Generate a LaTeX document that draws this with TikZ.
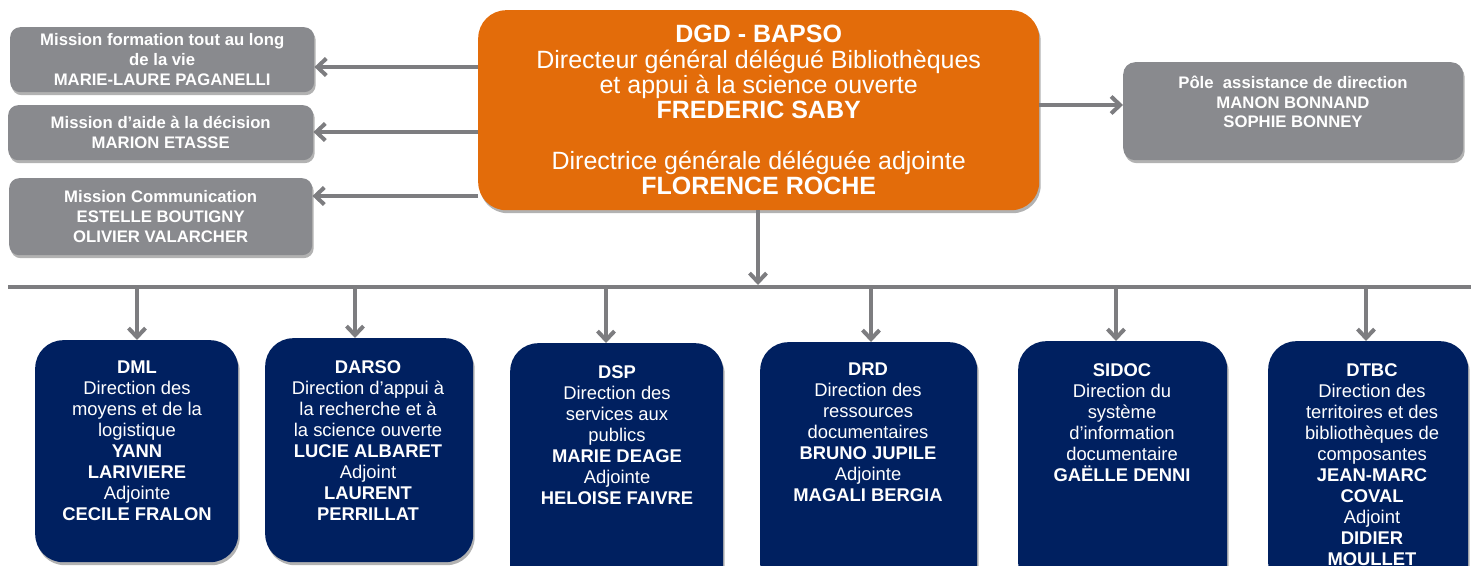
\documentclass[tikz,border=0pt]{standalone}
\usepackage{fontspec}
\setmainfont{Liberation Sans}
\usetikzlibrary{shadows,arrows.meta,calc}
\definecolor{orng}{RGB}{227,108,10}
\definecolor{gbox}{RGB}{137,138,142}
\definecolor{navy}{RGB}{0,32,96}
\definecolor{lgray}{RGB}{125,125,128}
\begin{document}
\begin{tikzpicture}[x=1pt,y=-1pt,
  shad/.style={drop shadow={shadow xshift=1.5pt,shadow yshift=-3pt,opacity=0.3,fill=black}},
  graybox/.style={fill=gbox,draw=none,rounded corners=10pt,shad,anchor=north west,inner sep=0pt,
    text=white,align=center,font=\fontsize{16.7}{19.8}\selectfont\bfseries},
  orangebox/.style={fill=orng,draw=none,rounded corners=28pt,shad,anchor=north west,inner sep=0pt,
    text=white,align=center,font=\fontsize{25}{25.3}\selectfont},
  navybox/.style={fill=navy,draw=none,rounded corners=28pt,shad,anchor=north west,inner sep=0pt},
  navytext/.style={text=white,align=center,anchor=north,inner sep=0pt,font=\fontsize{18.4}{21}\selectfont},
  righttext/.style={text=white,align=center,inner sep=0pt,font=\fontsize{16.7}{19.8}\selectfont\bfseries},
  arr/.style={draw=lgray,line width=4pt,-{Straight Barb[length=9pt,width=17pt]}},
  bus/.style={draw=lgray,line width=4pt}
]
\useasboundingbox (0,0) rectangle (1471,565);

% top level
\node[orangebox,minimum width=561pt,minimum height=200pt] (dgd) at (478,10)
  {\textbf{DGD - BAPSO}\\
   Directeur général délégué Bibliothèques\\
   et appui à la science ouverte\\
   \textbf{FREDERIC SABY}\\[25.3pt]
   Directrice générale déléguée adjointe\\
   \textbf{FLORENCE ROCHE}};

% missions (left)
\node[graybox,minimum width=304pt,minimum height=65pt] (m1) at (10,27)
  {Mission formation tout au long\\ de la vie\\ MARIE-LAURE PAGANELLI};
\node[graybox,minimum width=305pt,minimum height=55pt] (m2) at (8,105)
  {Mission d’aide à la décision\\ MARION ETASSE};
\node[graybox,minimum width=303pt,minimum height=77pt] (m3) at (9,178)
  {Mission Communication\\ ESTELLE BOUTIGNY\\ OLIVIER VALARCHER};

% assistance (right)
\node[graybox,minimum width=340pt,minimum height=98pt,rounded corners=12pt] (pad) at (1123,62) {};
\node[righttext] (padt) at (1293,102)
  {Pôle\ \ assistance de direction\\ MANON BONNAND\\ SOPHIE BONNEY};

% arrows to missions
\coordinate (l1) at (478,67);
\coordinate (l2) at (478,132);
\coordinate (l3) at (478,196);
\draw[arr] (l1) -- (l1 -| m1.east);
\draw[arr] (l2) -- (l2 -| m2.east);
\draw[arr] (l3) -- (l3 -| m3.east);
\coordinate (r1) at (1039,105);
\draw[arr] (r1) -- (r1 -| pad.west);

% bus
\coordinate (busL) at (8,287);
\coordinate (busR) at (1471,287);
\draw[bus] (busL) -- (busR);
\coordinate (dgdb) at (758,210);
\draw[arr] (dgdb) -- (758,285);

% directions
\node[navybox,minimum width=203pt,minimum height=222pt] (dml) at (35,340) {};
\node[navybox,minimum width=208pt,minimum height=224pt] (darso) at (265,338) {};
\node[navybox,minimum width=213pt,minimum height=250pt] (dsp) at (510,343) {};
\node[navybox,minimum width=217pt,minimum height=250pt] (drd) at (760,342) {};
\node[navybox,minimum width=209pt,minimum height=250pt] (sidoc) at (1018,341) {};
\node[navybox,minimum width=200pt,minimum height=250pt] (dtbc) at (1268,341) {};

\node[navytext] (dmlt) at (137,361)
  {\textbf{DML}\\ Direction des\\ moyens et de la\\ logistique\\ \textbf{YANN}\\ \textbf{LARIVIERE}\\ Adjointe\\ \textbf{CECILE FRALON}};
\node[navytext] (darsot) at (368,360)
  {\textbf{DARSO}\\ Direction d’appui à\\ la recherche et à\\ la science ouverte\\ \textbf{LUCIE ALBARET}\\ Adjoint\\ \textbf{LAURENT}\\ \textbf{PERRILLAT}};
\node[navytext] (dspt) at (617,365)
  {\textbf{DSP}\\ Direction des\\ services aux\\ publics\\ \textbf{MARIE DEAGE}\\ Adjointe\\ \textbf{HELOISE FAIVRE}};
\node[navytext] (drdt) at (868,363)
  {\textbf{DRD}\\ Direction des\\ ressources\\ documentaires\\ \textbf{BRUNO JUPILE}\\ Adjointe\\ \textbf{MAGALI BERGIA}};
\node[navytext] (sidoct) at (1122,363)
  {\textbf{SIDOC}\\ Direction du\\ système\\ d’information\\ documentaire\\ \textbf{GAËLLE DENNI}};
\node[navytext] (dtbct) at (1372,363)
  {\textbf{DTBC}\\ Direction des\\ territoires et des\\ bibliothèques de\\ composantes\\ \textbf{JEAN-MARC}\\ \textbf{COVAL}\\ Adjoint\\ \textbf{DIDIER}\\ \textbf{MOULLET}};

% arrows from bus
\coordinate (a1) at (137,289);
\coordinate (a2) at (355,289);
\coordinate (a3) at (606,289);
\coordinate (a4) at (871,289);
\coordinate (a5) at (1116,289);
\coordinate (a6) at (1366,289);
\draw[arr] (a1) -- (a1 |- dml.north);
\draw[arr] (a2) -- (a2 |- darso.north);
\draw[arr] (a3) -- (a3 |- dsp.north);
\draw[arr] (a4) -- (a4 |- drd.north);
\draw[arr] (a5) -- (a5 |- sidoc.north);
\draw[arr] (a6) -- (a6 |- dtbc.north);
\end{tikzpicture}
\end{document}
